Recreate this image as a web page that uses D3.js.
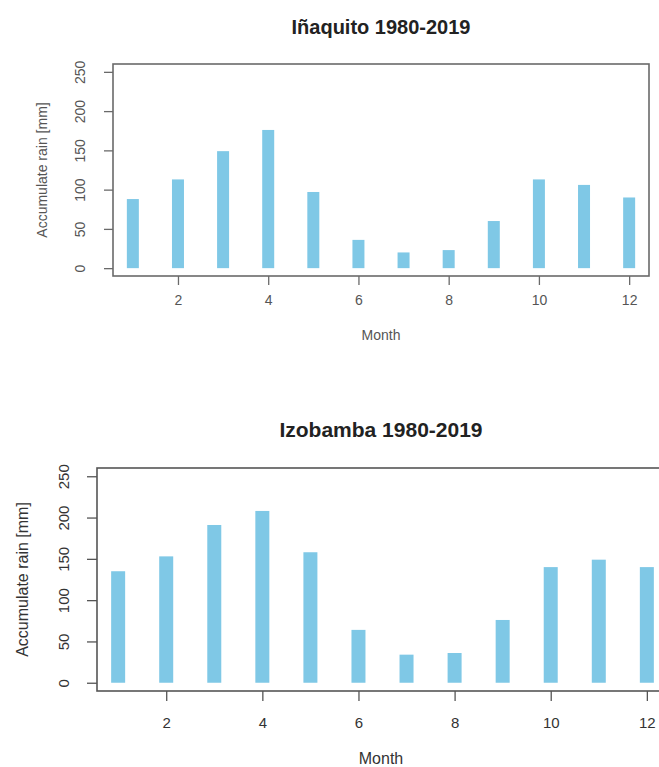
<!DOCTYPE html>
<html>
<head>
<meta charset="utf-8">
<script src="https://cdn.jsdelivr.net/npm/d3@7"></script>
<style>
  body { margin: 0; background: #fff; }
  svg { display: block; font-family: "Liberation Sans", Arial, sans-serif; }
</style>
</head>
<body>
<svg id="chart" width="659" height="767"></svg>
<script>
// monthly accumulated rain, 1980-2019
const months = [1, 2, 3, 4, 5, 6, 7, 8, 9, 10, 11, 12];
const inaquitoRain = [88, 113, 149, 176, 97, 36, 20, 23, 60, 113, 106, 90];
const izobambaRain = [135, 153, 191, 208, 158, 64, 34, 36, 76, 140, 149, 140];
const xTicks = [2, 4, 6, 8, 10, 12];
const yTicks = [0, 50, 100, 150, 200, 250];

const svg = d3.select('#chart');

function drawPanel(values, title, o) {
    const x = d3.scaleLinear().domain([0.56, 12.44]).range([o.left, o.right]);
    const y = d3.scaleLinear().domain([-10, 260]).range([o.bottom, o.top]);
    const g = svg.append('g');

    // bars (thick vertical lines, like type="h")
    g.selectAll('rect.bar')
        .data(months)
        .enter()
        .append('rect')
        .attr('class', 'bar')
        .attr('x', d => x(d) - o.barW / 2)
        .attr('width', o.barW)
        .attr('y', (d, i) => y(values[i]))
        .attr('height', (d, i) => y(0) - y(values[i]))
        .attr('fill', '#7fc8e6');

    // frame
    g.append('rect')
        .attr('x', o.left)
        .attr('y', o.top)
        .attr('width', o.right - o.left)
        .attr('height', o.bottom - o.top)
        .attr('fill', 'none')
        .attr('stroke', o.ink)
        .attr('stroke-width', 1.6);

    // y axis, labels turned parallel to the axis
    const yAxis = g.append('g')
        .attr('transform', `translate(${o.left},0)`)
        .call(d3.axisLeft(y).tickValues(yTicks).tickSize(o.tick).tickPadding(0));
    yAxis.select('.domain').remove();
    yAxis.selectAll('line').attr('stroke', o.ink).attr('stroke-width', 1.3);
    yAxis.selectAll('text')
        .attr('x', null).attr('y', null).attr('dy', null)
        .attr('transform', `translate(${o.yLabX - o.left},0) rotate(-90)`)
        .attr('text-anchor', 'middle')
        .attr('dominant-baseline', 'central')
        .attr('fill', o.textInk)
        .style('font-size', o.fs + 'px');

    // x axis
    const xAxis = g.append('g')
        .attr('transform', `translate(0,${o.bottom})`)
        .call(d3.axisBottom(x).tickValues(xTicks).tickSize(o.tick).tickPadding(0));
    xAxis.select('.domain').remove();
    xAxis.selectAll('line').attr('stroke', o.ink).attr('stroke-width', 1.3);
    xAxis.selectAll('text')
        .attr('y', o.xLabY - o.bottom)
        .attr('dy', null)
        .attr('fill', o.textInk)
        .style('font-size', o.fs + 'px');

    // title and axis titles
    g.append('text')
        .attr('x', o.titleX)
        .attr('y', o.titleY)
        .attr('text-anchor', 'middle')
        .attr('font-weight', 'bold')
        .attr('fill', '#222')
        .style('font-size', o.titleFs + 'px')
        .text(title);

    g.append('text')
        .attr('x', o.titleX)
        .attr('y', o.monthY)
        .attr('text-anchor', 'middle')
        .attr('fill', o.textInk)
        .style('font-size', o.labFs + 'px')
        .text('Month');

    g.append('text')
        .attr('transform', `translate(${o.yTitleX},${(o.top + o.bottom) / 2}) rotate(-90)`)
        .attr('text-anchor', 'middle')
        .attr('dominant-baseline', 'central')
        .attr('fill', o.textInk)
        .style('font-size', o.labFs + 'px')
        .text('Accumulate rain [mm]');
}

drawPanel(inaquitoRain, 'Iñaquito 1980-2019', {
    left: 113, right: 649, top: 64, bottom: 276,
    barW: 12, tick: 9, yLabX: 80, xLabY: 305, yTitleX: 42,
    titleX: 381, titleY: 34, monthY: 340,
    fs: 14, labFs: 14, titleFs: 20, ink: '#6a6a6a', textInk: '#555'
});

drawPanel(izobambaRain, 'Izobamba 1980-2019', {
    left: 97, right: 668, top: 468, bottom: 691,
    barW: 14, tick: 10, yLabX: 63, xLabY: 728, yTitleX: 22,
    titleX: 381, titleY: 437, monthY: 764,
    fs: 15, labFs: 16, titleFs: 21, ink: '#555', textInk: '#333'
});
</script>
</body>
</html>
